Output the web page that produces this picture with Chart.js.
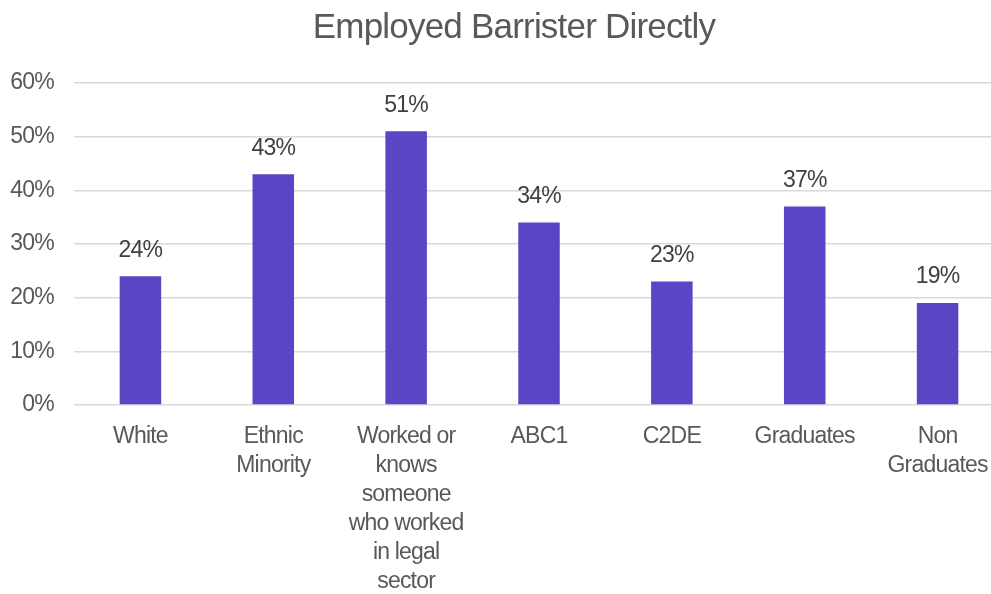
<!DOCTYPE html>
<html>
<head>
<meta charset="utf-8">
<script src="https://cdn.jsdelivr.net/npm/chart.js@4/dist/chart.umd.min.js"></script>
<style>
  html, body { margin: 0; padding: 0; overflow: hidden; background: #fff; }
  #wrap { width: 1028px; height: 594px; }
</style>
</head>
<body>
<div id="wrap"><canvas id="chart" width="1028" height="594"></canvas></div>
<script>
const chartTitle = "Employed Barrister Directly";
const categories = [
  "White",
  ["Ethnic", "Minority"],
  ["Worked or", "knows", "someone", "who worked", "in legal", "sector"],
  "ABC1",
  "C2DE",
  "Graduates",
  ["Non", "Graduates"]
];
const values = [24, 43, 51, 34, 23, 37, 19];
const yTicks = [0, 10, 20, 30, 40, 50, 60];

const barColor = "#5B45C4";
const textColor = "#595959";
const fontFamily = "'Liberation Sans', Arial, sans-serif";

const valueLabels = {
  id: "valueLabels",
  afterDatasetsDraw(chart) {
    const ctx = chart.ctx;
    const meta = chart.getDatasetMeta(0);
    ctx.save();
    ctx.font = "23px " + fontFamily;
    ctx.fillStyle = "#404040";
    ctx.textAlign = "center";
    ctx.textBaseline = "middle";
    meta.data.forEach((bar, i) => {
      ctx.fillText(values[i] + "%", bar.x, bar.y - 26);
    });
    ctx.restore();
  }
};

// title drawn by hand so it sits centred on the visible picture, not the padded box
const titleText = {
  id: "titleText",
  afterDraw(chart) {
    const ctx = chart.ctx;
    ctx.save();
    ctx.font = "35px " + fontFamily;
    ctx.fillStyle = textColor;
    ctx.textAlign = "center";
    ctx.textBaseline = "middle";
    ctx.fillText(chartTitle, 514, 28);
    ctx.restore();
  }
};

// excel-ish tight text
const tightText = {
  id: "tightText",
  beforeDraw(chart) {
    chart.ctx.letterSpacing = "-0.8px";
  }
};

new Chart(document.getElementById("chart").getContext("2d"), {
  type: "bar",
  data: {
    labels: categories,
    datasets: [{
      data: values,
      backgroundColor: barColor,
      barPercentage: 1,
      categoryPercentage: 0.3125
    }]
  },
  options: {
    responsive: false,
    animation: false,
    layout: { padding: { top: 83, right: 24, bottom: 0, left: 0 } },
    plugins: {
      legend: { display: false },
      tooltip: { enabled: false },
      title: { display: false }
    },
    scales: {
      x: {
        afterFit(scale) { scale.height = 189; },
        grid: { display: false },
        border: { display: false },
        ticks: {
          color: textColor,
          maxRotation: 0,
          autoSkip: false,
          padding: 9,
          font: { family: fontFamily, size: 23, lineHeight: 1.26 }
        }
      },
      y: {
        min: 0,
        max: 60,
        afterFit(scale) { scale.width = 74; },
        afterBuildTicks(scale) { scale.ticks = yTicks.map(v => ({ value: v })); },
        grid: { color: "#D9D9D9", lineWidth: 1.5, drawTicks: false },
        border: { display: false },
        ticks: {
          color: textColor,
          padding: 20,
          callback: v => v + "%",
          font: { family: fontFamily, size: 23 }
        }
      }
    }
  },
  plugins: [valueLabels, titleText, tightText]
});
</script>
</body>
</html>
